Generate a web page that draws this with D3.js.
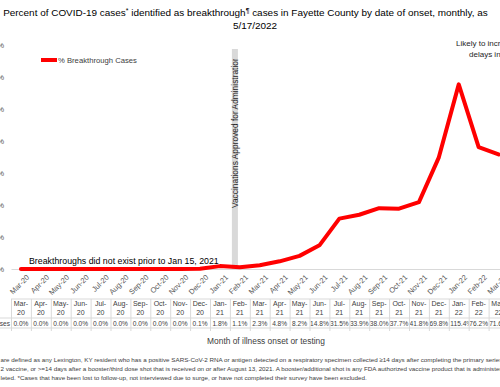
<!DOCTYPE html>
<html>
<head>
<meta charset="utf-8">
<script src="https://cdn.jsdelivr.net/npm/d3@7"></script>
<style>
  body { margin: 0; background: #fff; overflow: hidden; }
  svg { display: block; font-family: "Liberation Sans", Arial, sans-serif; }
</style>
</head>
<body>
<div id="chart"></div>
<script>
// monthly categories (chart is cropped: Mar-20 .. Mar-22 visible)
const months = ["Mar-20","Apr-20","May-20","Jun-20","Jul-20","Aug-20","Sep-20","Oct-20","Nov-20","Dec-20",
  "Jan-21","Feb-21","Mar-21","Apr-21","May-21","Jun-21","Jul-21","Aug-21","Sep-21","Oct-21","Nov-21","Dec-21",
  "Jan-22","Feb-22","Mar-22"];
const breakthroughPct = [0.0,0.0,0.0,0.0,0.0,0.0,0.0,0.0,0.0,0.1,
  1.8,1.1,2.3,4.8,8.2,14.8,31.5,33.9,38.0,37.7,41.8,69.8,
  115.4,76.2,71.6];
const yTicks = [0,20,40,60,80,100,120,140];
const vaccineMonth = "Feb-21";
const vaccineBarTop = 137.5;
const footnotes = [
  "are defined as any Lexington, KY resident who has a positive SARS-CoV-2 RNA or antigen detected on a respiratory specimen collected \u226514 days after completing the primary series",
  "2 vaccine, or >=14 days after a booster/third dose shot that is received on or after August 13, 2021.  A booster/additional shot is any FDA authorized vaccine product that is administered",
  "leted. *Cases that have been lost to follow-up, not interviewed due to surge, or have not completed their survey have been excluded."
];

const width = 500, height = 387;
const svg = d3.select("#chart").append("svg")
  .attr("width", width)
  .attr("height", height);

// shrink/grow font so a text fits the width seen in the picture
function fitWidth(sel, target) {
  const fs = parseFloat(sel.attr("font-size"));
  const w = sel.node().getComputedTextLength();
  sel.attr("font-size", fs * target / w);
  return fs * target / w;
}

const step = 19.9;
const x = d3.scaleBand().domain(months).range([11, 11 + months.length * step]);
const y = d3.scaleLinear().domain([0, 140]).range([269, 45]);
const cx = m => x(m) + x.bandwidth() / 2;

// title
const t1 = svg.append("text")
  .attr("x", 245.5).attr("y", 16)
  .attr("text-anchor", "middle")
  .attr("font-size", 10)
  .attr("fill", "#000");
t1.append("tspan").text("Percent of COVID-19 cases");
t1.append("tspan").attr("font-size", "0.7em").attr("dy", -3).text("*");
t1.append("tspan").attr("dy", 3).text(" identified as breakthrough");
t1.append("tspan").attr("font-size", "0.7em").attr("dy", -3).text("\u00b6");
t1.append("tspan").attr("dy", 3).text(" cases in Fayette County by date of onset, monthly, as");
const titleSize = fitWidth(t1, 485);
svg.append("text")
  .attr("x", 255).attr("y", 29)
  .attr("text-anchor", "middle")
  .attr("font-size", titleSize)
  .text("5/17/2022");

// y axis labels (cut off at left edge)
const yAxis = d3.axisLeft(y).tickValues(yTicks).tickFormat(d => d + "%").tickSize(0).tickPadding(0);
const yAxisG = svg.append("g").attr("transform", "translate(4,0)").call(yAxis);
yAxisG.select(".domain").remove();
yAxisG.selectAll("text").attr("font-size", 8).attr("fill", "#595959").attr("font-family", null);

// vaccination bar + label
const barX = x(vaccineMonth) + 2;
svg.append("rect")
  .attr("x", barX).attr("width", 6)
  .attr("y", y(vaccineBarTop)).attr("height", y(0) - y(vaccineBarTop))
  .attr("fill", "#d9d9d9");
svg.append("clipPath").attr("id", "vclip")
  .append("rect").attr("x", barX - 10).attr("width", 30).attr("y", 59).attr("height", 220);
const vt = svg.append("g")
  .attr("clip-path", "url(#vclip)")
  .append("text")
  .attr("transform", `translate(${barX + 6},208) rotate(-90)`)
  .attr("font-size", 9)
  .attr("fill", "#262626")
  .text("Vaccinations Approved for Administration");
fitWidth(vt, 152);

// x axis
const xAxis = d3.axisBottom(x).tickSize(0);
const xAxisG = svg.append("g").attr("transform", `translate(0,${y(0)})`).call(xAxis);
xAxisG.select(".domain").attr("stroke", "#d9d9d9");
xAxisG.selectAll("text")
  .attr("font-family", null)
  .attr("font-size", 7.5)
  .attr("fill", "#595959")
  .attr("x", 0).attr("y", 0).attr("dy", "0.35em")
  .attr("text-anchor", "end")
  .attr("transform", "translate(7,7) rotate(-45)");

// series line
const line = d3.line()
  .x((d, i) => cx(months[i]))
  .y(d => y(d))
  .curve(d3.curveLinear);
svg.append("path")
  .datum(breakthroughPct)
  .attr("d", line)
  .attr("fill", "none")
  .attr("stroke", "#ff0000")
  .attr("stroke-width", 4)
  .attr("stroke-linejoin", "round")
  .attr("stroke-linecap", "round");

// legend
svg.append("line")
  .attr("x1", 41).attr("x2", 57).attr("y1", 60).attr("y2", 60)
  .attr("stroke", "#ff0000").attr("stroke-width", 4);
const lg = svg.append("text")
  .attr("x", 58).attr("y", 63)
  .attr("font-size", 8.5)
  .attr("fill", "#404040")
  .text("% Breakthrough Cases");
fitWidth(lg, 79);

// annotations
const ann = svg.append("text")
  .attr("x", 29).attr("y", 264)
  .attr("font-size", 9)
  .attr("fill", "#000")
  .text("Breakthroughs did not exist prior to Jan 15, 2021");
fitWidth(ann, 190);

svg.append("text").attr("x", 456).attr("y", 46)
  .attr("font-size", 8).attr("fill", "#262626")
  .text("Likely to increase due to");
svg.append("text").attr("x", 469).attr("y", 57)
  .attr("font-size", 8).attr("fill", "#262626")
  .text("delays in reporting");

// data table
const rowTop = 299, rowMid = 318, rowBot = 328;
const tbl = svg.append("g");
tbl.append("line").attr("x1", x.range()[0]).attr("x2", x.range()[1])
  .attr("y1", rowTop).attr("y2", rowTop).attr("stroke", "#d9d9d9");
[rowMid, rowBot].forEach(yy => tbl.append("line").attr("x1", 0).attr("x2", x.range()[1])
  .attr("y1", yy).attr("y2", yy).attr("stroke", "#d9d9d9"));
tbl.selectAll("line.col").data(months).enter().append("line")
  .attr("class", "col")
  .attr("x1", d => x(d) + 0.5).attr("x2", d => x(d) + 0.5)
  .attr("y1", rowTop).attr("y2", rowBot + 3)
  .attr("stroke", "#d9d9d9");

const fmt = d3.format(".1f");
const cells = tbl.selectAll("g.cell").data(months).enter().append("g").attr("class", "cell");
cells.append("clipPath").attr("id", (d, i) => "cell" + i)
  .append("rect").attr("x", d => x(d) + 1).attr("width", x.bandwidth() - 1)
  .attr("y", rowTop).attr("height", rowBot - rowTop);
const head = cells.append("text")
  .attr("text-anchor", "middle")
  .attr("font-size", 7)
  .attr("fill", "#404040");
head.append("tspan").attr("x", d => cx(d)).attr("y", 306).text(d => d.split("-")[0] + "-");
head.append("tspan").attr("x", d => cx(d)).attr("y", 315).text(d => d.split("-")[1]);
const vals = cells.append("g")
  .attr("clip-path", (d, i) => `url(#cell${i})`)
  .append("text")
  .attr("x", d => cx(d)).attr("y", 326)
  .attr("text-anchor", "middle")
  .attr("font-size", 6.6)
  .attr("fill", "#404040")
  .text((d, i) => fmt(breakthroughPct[i]) + "%");
// overflowing values start at the cell's left edge (like the spreadsheet)
vals.each(function(d) {
  if (this.getComputedTextLength() > x.bandwidth() - 1) {
    d3.select(this).attr("text-anchor", "start").attr("x", x(d) + 1.5);
  }
});
tbl.append("text")
  .attr("x", 10).attr("y", 326)
  .attr("text-anchor", "end")
  .attr("font-size", 6.6)
  .attr("fill", "#404040")
  .text("% Breakthrough Cases");

// x axis title
const xt = svg.append("text")
  .attr("x", 266).attr("y", 344)
  .attr("text-anchor", "middle")
  .attr("font-size", 9)
  .attr("fill", "#404040")
  .text("Month of illness onset or testing");
fitWidth(xt, 118);

// footnotes
const fn = svg.selectAll("text.fn").data(footnotes).enter().append("text")
  .attr("class", "fn")
  .attr("x", 0.5)
  .attr("y", (d, i) => 362 + i * 9)
  .attr("font-size", 6)
  .attr("fill", "#404040")
  .text(d => d);
const fnSize = fitWidth(d3.select(fn.nodes()[2]), 367);
fn.attr("font-size", fnSize);
</script>
</body>
</html>
